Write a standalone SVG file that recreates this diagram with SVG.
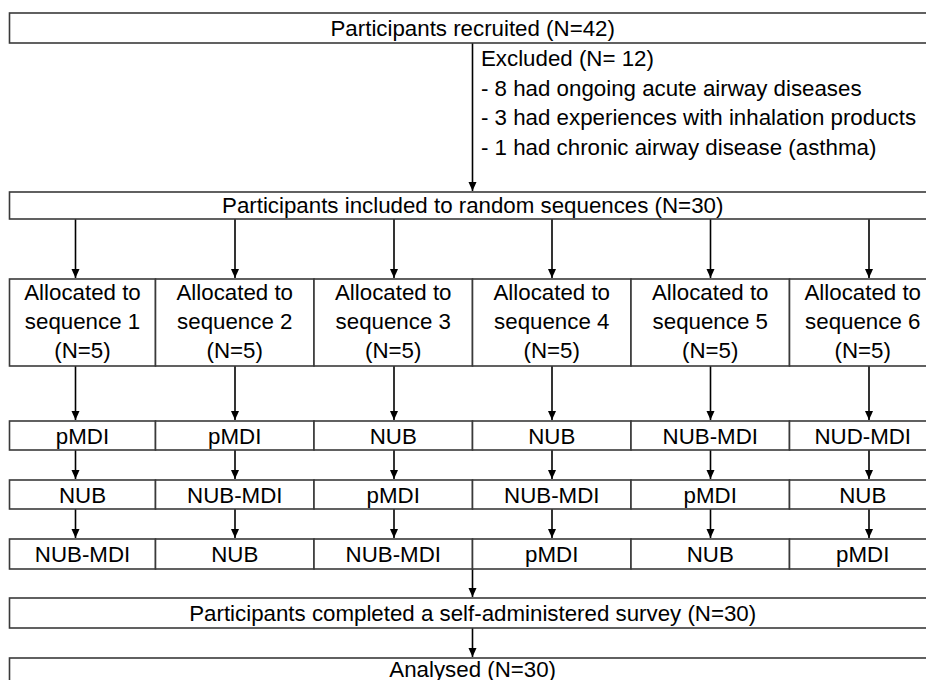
<svg xmlns="http://www.w3.org/2000/svg" width="926" height="680" viewBox="0 0 926 680">
<style>
.box{fill:#fff;stroke:#3a3a3a;stroke-width:1.6}
.t{font-family:"Liberation Sans",Arial,sans-serif;font-size:22.3px;fill:#000;text-anchor:middle}
.tl{font-family:"Liberation Sans",Arial,sans-serif;font-size:22.3px;fill:#000}
.c{stroke:#000;stroke-width:1.6;fill:none;marker-end:url(#ah)}
</style>
<defs>
<marker id="ah" markerUnits="userSpaceOnUse" markerWidth="10" markerHeight="10" refX="9" refY="5" orient="auto">
<path d="M0,1 L9,5 L0,9 Z" fill="#000"/>
</marker>
</defs>
<rect width="926" height="680" fill="#fff"/>
<g id="connectors">
<path class="c" d="M472.5,43 V191"/>
<path class="c" d="M75.5,219 V278"/><path class="c" d="M235,219 V278"/><path class="c" d="M394,219 V278"/><path class="c" d="M552,219 V278"/><path class="c" d="M710.5,219 V278"/><path class="c" d="M869,219 V278"/>
<path class="c" d="M75.5,366 V420"/><path class="c" d="M235,366 V420"/><path class="c" d="M394,366 V420"/><path class="c" d="M552,366 V420"/><path class="c" d="M710.5,366 V420"/><path class="c" d="M869,366 V420"/>
<path class="c" d="M75.5,450 V479"/><path class="c" d="M235,450 V479"/><path class="c" d="M394,450 V479"/><path class="c" d="M552,450 V479"/><path class="c" d="M710.5,450 V479"/><path class="c" d="M869,450 V479"/>
<path class="c" d="M75.5,509 V538"/><path class="c" d="M235,509 V538"/><path class="c" d="M394,509 V538"/><path class="c" d="M552,509 V538"/><path class="c" d="M710.5,509 V538"/><path class="c" d="M869,509 V538"/>
<path class="c" d="M472.5,569 V597"/>
<path class="c" d="M472.5,628 V657"/>
</g>
<g id="recruited"><rect class="box" x="9.5" y="13" width="926.5" height="30"/><text class="t" x="472.7" y="36">Participants recruited (N=42)</text></g>
<g id="excluded">
<text class="tl" x="481" y="66">Excluded (N= 12)</text>
<text class="tl" x="481" y="95.5">- 8 had ongoing acute airway diseases</text>
<text class="tl" x="481" y="125">- 3 had experiences with inhalation products</text>
<text class="tl" x="481" y="154.5">- 1 had chronic airway disease (asthma)</text>
</g>
<g id="included"><rect class="box" x="9.5" y="192" width="926.5" height="27"/><text class="t" x="472.7" y="213">Participants included to random sequences (N=30)</text></g>
<g id="alloc1"><rect class="box" x="9.5" y="279" width="146" height="87"/><text class="t" x="82.5" y="300">Allocated to</text><text class="t" x="82.5" y="329">sequence 1</text><text class="t" x="82.5" y="358">(N=5)</text></g>
<g id="alloc2"><rect class="box" x="155.5" y="279" width="158.5" height="87"/><text class="t" x="234.75" y="300">Allocated to</text><text class="t" x="234.75" y="329">sequence 2</text><text class="t" x="234.75" y="358">(N=5)</text></g>
<g id="alloc3"><rect class="box" x="314" y="279" width="158.5" height="87"/><text class="t" x="393.25" y="300">Allocated to</text><text class="t" x="393.25" y="329">sequence 3</text><text class="t" x="393.25" y="358">(N=5)</text></g>
<g id="alloc4"><rect class="box" x="472.5" y="279" width="158.5" height="87"/><text class="t" x="551.75" y="300">Allocated to</text><text class="t" x="551.75" y="329">sequence 4</text><text class="t" x="551.75" y="358">(N=5)</text></g>
<g id="alloc5"><rect class="box" x="631" y="279" width="158.5" height="87"/><text class="t" x="710.25" y="300">Allocated to</text><text class="t" x="710.25" y="329">sequence 5</text><text class="t" x="710.25" y="358">(N=5)</text></g>
<g id="alloc6"><rect class="box" x="789.5" y="279" width="146.5" height="87"/><text class="t" x="862.75" y="300">Allocated to</text><text class="t" x="862.75" y="329">sequence 6</text><text class="t" x="862.75" y="358">(N=5)</text></g>
<g id="r1c1"><rect class="box" x="9.5" y="421" width="146" height="29"/><text class="t" x="82.5" y="443.5">pMDI</text></g>
<g id="r1c2"><rect class="box" x="155.5" y="421" width="158.5" height="29"/><text class="t" x="234.75" y="443.5">pMDI</text></g>
<g id="r1c3"><rect class="box" x="314" y="421" width="158.5" height="29"/><text class="t" x="393.25" y="443.5">NUB</text></g>
<g id="r1c4"><rect class="box" x="472.5" y="421" width="158.5" height="29"/><text class="t" x="551.75" y="443.5">NUB</text></g>
<g id="r1c5"><rect class="box" x="631" y="421" width="158.5" height="29"/><text class="t" x="710.25" y="443.5">NUB-MDI</text></g>
<g id="r1c6"><rect class="box" x="789.5" y="421" width="146.5" height="29"/><text class="t" x="862.75" y="443.5">NUD-MDI</text></g>
<g id="r2c1"><rect class="box" x="9.5" y="480" width="146" height="29"/><text class="t" x="82.5" y="502.5">NUB</text></g>
<g id="r2c2"><rect class="box" x="155.5" y="480" width="158.5" height="29"/><text class="t" x="234.75" y="502.5">NUB-MDI</text></g>
<g id="r2c3"><rect class="box" x="314" y="480" width="158.5" height="29"/><text class="t" x="393.25" y="502.5">pMDI</text></g>
<g id="r2c4"><rect class="box" x="472.5" y="480" width="158.5" height="29"/><text class="t" x="551.75" y="502.5">NUB-MDI</text></g>
<g id="r2c5"><rect class="box" x="631" y="480" width="158.5" height="29"/><text class="t" x="710.25" y="502.5">pMDI</text></g>
<g id="r2c6"><rect class="box" x="789.5" y="480" width="146.5" height="29"/><text class="t" x="862.75" y="502.5">NUB</text></g>
<g id="r3c1"><rect class="box" x="9.5" y="539" width="146" height="30"/><text class="t" x="82.5" y="562">NUB-MDI</text></g>
<g id="r3c2"><rect class="box" x="155.5" y="539" width="158.5" height="30"/><text class="t" x="234.75" y="562">NUB</text></g>
<g id="r3c3"><rect class="box" x="314" y="539" width="158.5" height="30"/><text class="t" x="393.25" y="562">NUB-MDI</text></g>
<g id="r3c4"><rect class="box" x="472.5" y="539" width="158.5" height="30"/><text class="t" x="551.75" y="562">pMDI</text></g>
<g id="r3c5"><rect class="box" x="631" y="539" width="158.5" height="30"/><text class="t" x="710.25" y="562">NUB</text></g>
<g id="r3c6"><rect class="box" x="789.5" y="539" width="146.5" height="30"/><text class="t" x="862.75" y="562">pMDI</text></g>
<g id="survey"><rect class="box" x="9.5" y="598" width="926.5" height="30"/><text class="t" x="472.7" y="620.5">Participants completed a self-administered survey (N=30)</text></g>
<g id="analysed"><rect class="box" x="9.5" y="658" width="926.5" height="30"/><text class="t" x="472.7" y="676.5">Analysed (N=30)</text></g>
</svg>
